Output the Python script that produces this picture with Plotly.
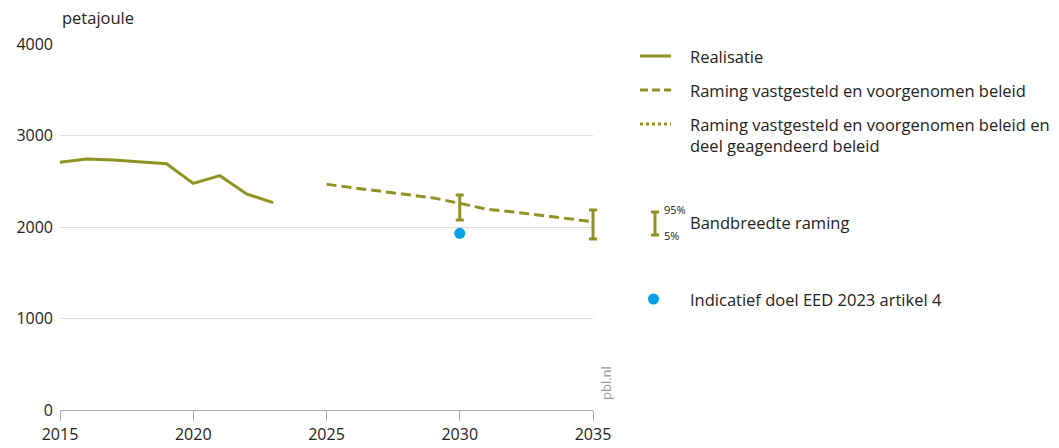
import plotly.graph_objects as go

# Data
years_real = [2015, 2016, 2017, 2018, 2019, 2020, 2021, 2022, 2023]
vals_real = [2707, 2743, 2732, 2714, 2692, 2477, 2561, 2361, 2266]

years_proj = [2025, 2026, 2027, 2028, 2029, 2030, 2031, 2032, 2033, 2034, 2035]
vals_proj = [2466, 2428, 2390, 2355, 2318, 2259, 2195, 2165, 2130, 2092, 2058]

band_years = [2030, 2035]
band_center = [2259, 2058]
band_high = [2350, 2186]
band_low = [2077, 1869]

target_year = [2030]
target_val = [1931]

x_ticks = [2015, 2020, 2025, 2030, 2035]
y_ticks = [0, 1000, 2000, 3000, 4000]

OLIVE = "#8e9324"
BLUE = "#06a0e3"
FONT = "Open Sans"

X_MIN, X_MAX = 2015, 2035
Y_MIN, Y_MAX = 0, 4000

# layout geometry (pixels): axes area 60..593 x 44..410, data layer padded by 10px
PAD = 10
L, R, T, B = 60 - PAD, 593 + PAD, 44, 410
W = 1059
H = 448
inner_w = (R - L) - 2 * PAD
yr_per_px = (X_MAX - X_MIN) / inner_w

fig = go.Figure()

fig.add_trace(go.Scatter(x=years_real, y=vals_real, mode="lines",
                         line=dict(color=OLIVE, width=3), name="Realisatie",
                         xaxis="x2", yaxis="y2", showlegend=False))
fig.add_trace(go.Scatter(x=years_proj, y=vals_proj, mode="lines",
                         line=dict(color=OLIVE, width=3, dash="10px,5px"),
                         name="Raming", xaxis="x2", yaxis="y2", showlegend=False))
fig.add_trace(go.Scatter(
    x=band_years, y=band_center, mode="markers",
    marker=dict(size=1, color="rgba(0,0,0,0)"),
    error_y=dict(type="data", symmetric=False,
                 array=[h - c for h, c in zip(band_high, band_center)],
                 arrayminus=[c - l for c, l in zip(band_center, band_low)],
                 color=OLIVE, thickness=3, width=4),
    xaxis="x2", yaxis="y2", showlegend=False))
fig.add_trace(go.Scatter(x=target_year, y=target_val, mode="markers",
                         marker=dict(color=BLUE, size=11), xaxis="x2", yaxis="y2",
                         showlegend=False))
# invisible trace on main axes so the xy subplot is drawn
fig.add_trace(go.Scatter(x=[X_MIN], y=[Y_MIN], mode="markers",
                         marker=dict(size=1, color="rgba(0,0,0,0)"),
                         hoverinfo="skip", showlegend=False))

dom0 = PAD / (R - L)
dom1 = 1 - PAD / (R - L)

fig.update_layout(
    xaxis=dict(range=[X_MIN, X_MAX], domain=[dom0, dom1], tickvals=x_ticks,
               showgrid=False, showline=True, linecolor="#aaaaaa", linewidth=1,
               ticks="outside", ticklen=10, tickcolor="#aaaaaa",
               tickfont=dict(family=FONT, size=16, color="#222222"),
               zeroline=False, automargin=False, fixedrange=True),
    yaxis=dict(range=[Y_MIN, Y_MAX], tickvals=y_ticks, showgrid=True,
               gridcolor="#dddddd", gridwidth=1, zeroline=False,
               showline=False, ticks="", ticklabelstandoff=6,
               tickfont=dict(family=FONT, size=16, color="#222222"),
               automargin=False, fixedrange=True),
    xaxis2=dict(range=[X_MIN - PAD * yr_per_px, X_MAX + PAD * yr_per_px],
                domain=[0, 1], anchor="y2", visible=False, fixedrange=True),
    yaxis2=dict(range=[Y_MIN, Y_MAX], domain=[0, 1], anchor="x2",
                visible=False, fixedrange=True),
)

shapes = []
annotations = []

def px(x):
    return (x - L) / (R - L)
def py(y):
    return (B - y) / (B - T)

def ptext(x, y, text, size=16.5, xanchor="left", yanchor="middle", color="#222222"):
    annotations.append(dict(xref="paper", yref="paper", x=x, y=y, text=text,
                            showarrow=False, xanchor=xanchor, yanchor=yanchor,
                            font=dict(family=FONT, size=size, color=color), align="left"))

# legend samples
shapes.append(dict(type="line", xref="paper", yref="paper", x0=px(640), x1=px(671),
                   y0=py(56), y1=py(56), line=dict(color=OLIVE, width=3)))
shapes.append(dict(type="line", xref="paper", yref="paper", x0=px(640), x1=px(671),
                   y0=py(90), y1=py(90), line=dict(color=OLIVE, width=3, dash="8px,4px")))
shapes.append(dict(type="line", xref="paper", yref="paper", x0=px(640), x1=px(671),
                   y0=py(124), y1=py(124), line=dict(color=OLIVE, width=3, dash="3px,3px")))
# error bar icon
shapes.append(dict(type="line", xref="paper", yref="paper", x0=px(655), x1=px(655),
                   y0=py(212), y1=py(235), line=dict(color=OLIVE, width=3)))
shapes.append(dict(type="line", xref="paper", yref="paper", x0=px(651), x1=px(659),
                   y0=py(212), y1=py(212), line=dict(color=OLIVE, width=3)))
shapes.append(dict(type="line", xref="paper", yref="paper", x0=px(651), x1=px(659),
                   y0=py(235), y1=py(235), line=dict(color=OLIVE, width=3)))
# dot icon
shapes.append(dict(type="circle", xref="paper", yref="paper", x0=px(648), x1=px(659),
                   y0=py(304.5), y1=py(293.5), fillcolor=BLUE, line=dict(color=BLUE, width=0)))

ptext(px(688), py(56), "Realisatie")
ptext(px(688), py(90), "Raming vastgesteld en voorgenomen beleid")
ptext(px(688), py(135), "Raming vastgesteld en voorgenomen beleid en<br>deel geagendeerd beleid")
ptext(px(688), py(222), "Bandbreedte raming")
ptext(px(662), py(210), "95%", size=11)
ptext(px(662), py(235), "5%", size=11)
ptext(px(688), py(299), "Indicatief doel EED 2023 artikel 4")
ptext(px(60), py(18), "petajoule")
annotations.append(dict(xref="paper", yref="paper", x=px(606), y=py(383), text="pbl.nl",
                        showarrow=False, textangle=-90, xanchor="center", yanchor="middle",
                        font=dict(family=FONT, size=13, color="#999999")))

fig.update_layout(width=W, height=H, margin=dict(l=L, r=W - R, t=T, b=H - B),
                  plot_bgcolor="rgba(0,0,0,0)", paper_bgcolor="white",
                  shapes=shapes, annotations=annotations, showlegend=False,
                  hovermode=False)

fig.write_html("out.html", config={"displayModeBar": False},
               post_script="document.body.style.margin='0px';document.body.style.overflow='hidden';")
